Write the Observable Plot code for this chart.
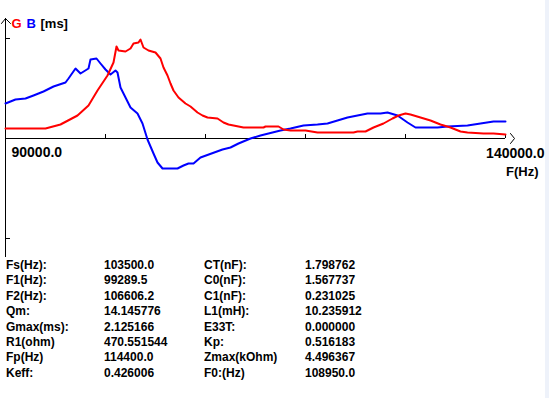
<!DOCTYPE html>
<html>
<head>
<meta charset="utf-8">
<script src="https://cdn.jsdelivr.net/npm/d3@7"></script>
<script src="https://cdn.jsdelivr.net/npm/@observablehq/plot@0.6"></script>
<style>
  html, body { margin: 0; padding: 0; background: #fff; }
  #wrap { position: relative; width: 549px; height: 398px; overflow: hidden; background: #fff;
          font-family: "Liberation Sans", Arial, sans-serif; font-weight: bold; color: #000; }
  #strip { position: absolute; left: 545px; top: 0; width: 4px; height: 398px; background: #eef2fa; }
  #chart { position: absolute; left: 0; top: 0; }
  .col { position: absolute; top: 258px; font-size: 12px; line-height: 15.4px; white-space: pre; }
</style>
</head>
<body>
<div id="wrap">
  <div id="chart"></div>
  <div id="strip"></div>
</div>
<script>
// ---- data ----
const gFreq = [90000, 94000, 95500, 97200, 98300, 99200, 100200, 100800, 101100, 101300, 102000, 102500, 102800, 103300, 103500, 103800, 104300, 105000, 105500, 105800, 106200, 106500, 106800, 107300, 108000, 108500, 109200, 109700, 110200, 111200, 111800, 112300, 113800, 115800, 116000, 117300, 117800, 118500, 120000, 121200, 124800, 125200, 126000, 126800, 127800, 128700, 129300, 130000, 130500, 131500, 132500, 133500, 134500, 135500, 136200, 137800, 138800, 140000];
const gVal  = [0.10, 0.10, 0.14, 0.23, 0.33, 0.48, 0.63, 0.76, 0.92, 0.88, 0.87, 0.90, 0.95, 0.96, 0.99, 0.91, 0.88, 0.86, 0.80, 0.71, 0.63, 0.55, 0.48, 0.41, 0.35, 0.32, 0.26, 0.23, 0.21, 0.20, 0.16, 0.14, 0.11, 0.11, 0.12, 0.12, 0.09, 0.08, 0.08, 0.06, 0.06, 0.07, 0.07, 0.11, 0.15, 0.20, 0.23, 0.25, 0.24, 0.21, 0.18, 0.14, 0.11, 0.07, 0.06, 0.05, 0.05, 0.04];
const bFreq = [90000, 91000, 92000, 92800, 93800, 94800, 96000, 96300, 97000, 97500, 98300, 98500, 99100, 99500, 100000, 100500, 101000, 101200, 101500, 102000, 102500, 103200, 103700, 104200, 104800, 105200, 105700, 107200, 107800, 108300, 108800, 109500, 111700, 112500, 113300, 114500, 115500, 116300, 117500, 118500, 119800, 121200, 122200, 123200, 124200, 125200, 126200, 127500, 128200, 129200, 130200, 131000, 133200, 134200, 136200, 137500, 138800, 140000];
const bVal  = [0.35, 0.39, 0.40, 0.43, 0.47, 0.52, 0.56, 0.60, 0.70, 0.65, 0.70, 0.79, 0.80, 0.75, 0.69, 0.64, 0.68, 0.66, 0.51, 0.41, 0.31, 0.25, 0.15, -0.01, -0.15, -0.24, -0.30, -0.30, -0.27, -0.25, -0.25, -0.19, -0.11, -0.09, -0.05, 0.00, 0.03, 0.05, 0.08, 0.10, 0.13, 0.14, 0.15, 0.18, 0.21, 0.23, 0.25, 0.25, 0.26, 0.23, 0.16, 0.11, 0.11, 0.12, 0.13, 0.15, 0.17, 0.17];
const xTicks = [90000, 100000, 110000, 120000, 130000, 140000];
const yTicks = [-1, 0, 1];
const xMinLabel = "90000.0";
const xMaxLabel = "140000.0";
const xTitle = "F(Hz)";
const legendItems = ["G", "B", "[ms]"];
const legendColors = ["#ff0000", "#0000ff", "#000000"];
const legendOffsets = [11, 26, 40];

const tLabels1 = ["Fs(Hz):", "F1(Hz):", "F2(Hz):", "Qm:", "Gmax(ms):", "R1(ohm)", "Fp(Hz)", "Keff:"];
const tValues1 = ["103500.0", "99289.5", "106606.2", "14.145776", "2.125166", "470.551544", "114400.0", "0.426006"];
const tLabels2 = ["CT(nF):", "C0(nF):", "C1(nF):", "L1(mH):", "E33T:", "Kp:", "Zmax(kOhm)", "F0:(Hz)"];
const tValues2 = ["1.798762", "1.567737", "0.231025", "10.235912", "0.000000", "0.516183", "4.496367", "108950.0"];

// ---- build ----
const G = gFreq.map((f, i) => ({f, v: gVal[i]}));
const B = bFreq.map((f, i) => ({f, v: bVal[i]}));
const x0 = xTicks[0], x1 = xTicks[xTicks.length - 1];
const yTop = 1.2, yBot = -1.19;
const arrowX = [{f: x1 + 500, v: 0.05}, {f: x1 + 900, v: 0}, {f: x1 + 500, v: -0.05}];
const arrowY = [{f: x0 - 400, v: yTop - 0.05}, {f: x0, v: yTop}, {f: x0 + 500, v: yTop - 0.05}];

const font = "Liberation Sans, Arial, sans-serif";
const chart = Plot.plot({
  width: 549, height: 260,
  marginTop: 0, marginRight: 0, marginBottom: 0, marginLeft: 0,
  x: {domain: [x0, x1], range: [5, 505], axis: null},
  y: {domain: [-1, 1], range: [238, 38], axis: null},
  style: {background: "transparent", fontFamily: font},
  marks: [
    Plot.ruleX([x0], {y1: yBot, y2: yTop, stroke: "#000", strokeWidth: 1, shapeRendering: "crispEdges"}),
    Plot.ruleY([0], {x1: x0, x2: x1, stroke: "#000", strokeWidth: 1, shapeRendering: "crispEdges"}),
    Plot.ruleX(xTicks.slice(1), {y1: 0, y2: 0.04, stroke: "#000", shapeRendering: "crispEdges"}),
    Plot.ruleY(yTicks.filter(d => d !== 0), {x1: x0, x2: x0 + 500, stroke: "#000", shapeRendering: "crispEdges"}),
    Plot.line(arrowX, {x: "f", y: "v", stroke: "#000", strokeWidth: 1}),
    Plot.line(arrowY, {x: "f", y: "v", stroke: "#000", strokeWidth: 1}),
    Plot.line(B, {x: "f", y: "v", stroke: "#0000ff", strokeWidth: 2}),
    Plot.line(G, {x: "f", y: "v", stroke: "#ff0000", strokeWidth: 2}),
    Plot.text([xMinLabel], {x: x0, y: -0.18, dx: 6, text: d => d, textAnchor: "start", lineAnchor: "bottom",
      fontSize: 14, fontWeight: "bold", fill: "#000"}),
    Plot.text([xMaxLabel], {x: x1, y: -0.19, dx: 39, text: d => d, textAnchor: "end", lineAnchor: "bottom",
      fontSize: 14, fontWeight: "bold", fill: "#000"}),
    Plot.text([xTitle], {x: x1, y: -0.375, dx: 33, text: d => d, textAnchor: "end", lineAnchor: "bottom",
      fontSize: 13, fontWeight: "bold", fill: "#000"}),
    ...legendItems.map((t, i) => Plot.text([t], {x: x0, y: 1.11, dx: legendOffsets[i] - 5, text: d => d,
      textAnchor: "start", lineAnchor: "bottom", fontSize: 13, fontWeight: "bold", fill: legendColors[i]}))
  ]
});
document.getElementById("chart").appendChild(chart);

const wrap = document.getElementById("wrap");
[[tLabels1, 6], [tValues1, 104], [tLabels2, 204], [tValues2, 305]].forEach(([arr, left]) => {
  const d = document.createElement("div");
  d.className = "col";
  d.style.left = left + "px";
  d.textContent = arr.join("\n");
  wrap.appendChild(d);
});
</script>
</body>
</html>
